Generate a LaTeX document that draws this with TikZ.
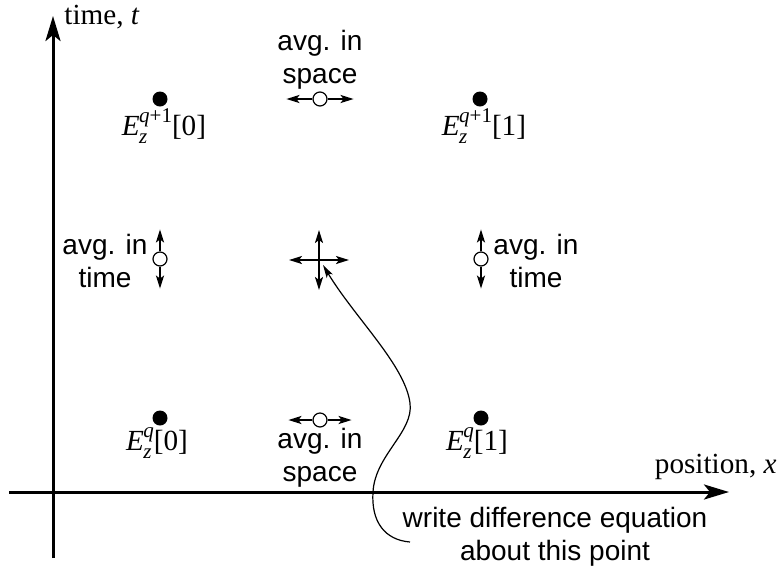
\documentclass[tikz,border=0pt]{standalone}
\usepackage{fontspec}
\setmainfont{Liberation Serif}
\setsansfont{Liberation Sans}
\usepackage{tikz}
\usetikzlibrary{arrows.meta, positioning}
\newcommand{\Efld}[2]{\textit{E}\kern-0.02em\makebox[0pt][l]{\raisebox{-0.55ex}{\fontsize{10.5}{10.5}\selectfont\textit{z}}}\raisebox{1ex}{\fontsize{10.5}{10.5}\selectfont #1}[#2]}

\begin{document}
\begin{tikzpicture}[
    x=0.5pt, y=-0.5pt,
    axis/.style={-{Stealth[length=12.5pt, width=7.5pt, inset=3pt]}, line width=1.5pt},
    avg/.style={-{Stealth[length=6.5pt, width=4pt, inset=1.5pt]}, line width=1pt},
    dot/.style={circle, fill, inner sep=0pt, minimum size=7.5pt},
    hole/.style={circle, draw, fill=white, inner sep=0pt, minimum size=7pt, line width=0.6pt},
    lbl/.style={font=\sffamily\fontsize{14}{16.5}\selectfont, align=center, inner sep=0pt},
    fld/.style={font=\fontsize{14.6}{16}\selectfont, inner sep=0pt},
]
    \useasboundingbox (0,0) rectangle (778,575);

    % axes
    \coordinate (tbot) at (53,558);
    \coordinate (ttop) at (53,16);
    \coordinate (xlft) at (9,492);
    \coordinate (xrgt) at (729,492);
    \draw[axis] (tbot) -- (ttop);
    \draw[axis] (xlft) -- (xrgt);
    \node[fld, anchor=west] (tlab) at (64,17) {time, \textit{t}};
    \node[fld, anchor=east] (xlab) at (777,467) {position, \textit{x}};

    % field samples
    \node[dot] (e10) at (160,99) {};
    \node[dot] (e11) at (480,99) {};
    \node[dot] (e00) at (160,418) {};
    \node[dot] (e01) at (481,418) {};
    \node[fld] (l10) at (164,126) {\Efld{\textit{q}+1}{0}};
    \node[fld] (l11) at (484,126) {\Efld{\textit{q}+1}{1}};
    \node[fld] (l00) at (157,443) {\Efld{\textit{q}}{0}};
    \node[fld] (l01) at (477,443) {\Efld{\textit{q}}{1}};

    % averages in space
    \node[hole] (s1) at (320,99) {};
    \coordinate[left=13pt of s1] (s1l);
    \coordinate[right=13pt of s1] (s1r);
    \draw[avg] (s1) -- (s1l);
    \draw[avg] (s1) -- (s1r);
    \node[lbl] (s1t) at (320,60) {avg. in\\space};

    \node[hole] (s0) at (320,420) {};
    \coordinate[left=12pt of s0] (s0l);
    \coordinate[right=12pt of s0] (s0r);
    \draw[avg] (s0) -- (s0l);
    \draw[avg] (s0) -- (s0r);
    \node[lbl] (s0t) at (320,458) {avg. in\\space};

    % averages in time
    \node[hole] (m0) at (160,259) {};
    \coordinate[above=11pt of m0] (m0u);
    \coordinate[below=11pt of m0] (m0d);
    \draw[avg] (m0) -- (m0u);
    \draw[avg] (m0) -- (m0d);
    \node[lbl] (m0t) at (105,261) {avg. in\\time};

    \node[hole] (m1) at (481,259) {};
    \coordinate[above=11pt of m1] (m1u);
    \coordinate[below=11pt of m1] (m1d);
    \draw[avg] (m1) -- (m1u);
    \draw[avg] (m1) -- (m1d);
    \node[lbl] (m1t) at (536,261) {avg. in\\time};

    % centre point
    \coordinate (ctr) at (319,260);
    \coordinate (cl) at (289,260);
    \coordinate (cr) at (349,260);
    \coordinate (cu) at (319,230);
    \coordinate (cd) at (319,290);
    \foreach \e in {cl,cr,cu,cd}
        \draw[avg] (ctr) -- (\e);

    % note
    \node[lbl] (note) at (555,537) {write difference equation\\about this point};
    \coordinate (tail) at (410,542);
    \coordinate (tip) at (323,265);
    \draw[-{Stealth[length=6.5pt, width=3.5pt, inset=1.5pt]}, line width=0.6pt]
        (tail) .. controls (385,540) and (371,522) .. (373,492)
        .. controls (375,455) and (414,432) .. (410,403)
        .. controls (405,365) and (355,318) .. (tip);
\end{tikzpicture}
\end{document}
